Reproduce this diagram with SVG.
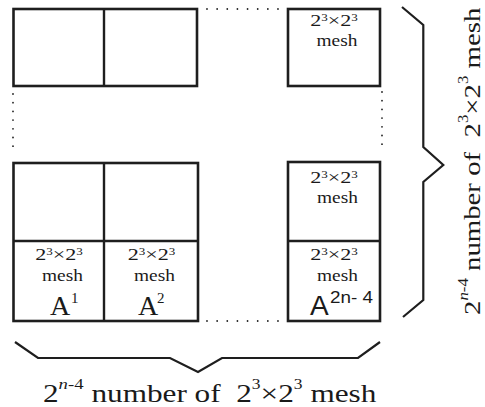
<svg xmlns="http://www.w3.org/2000/svg" width="485" height="407" viewBox="0 0 485 407">
<style>
.box{fill:#fff;stroke:#1e1e1e;stroke-width:2.6}
.div{stroke:#1e1e1e;stroke-width:2.4;fill:none}
.dots{stroke:#222;stroke-width:1.8;stroke-linecap:round;stroke-dasharray:0 10.14;fill:none}
.vdots{stroke:#222;stroke-width:1.8;stroke-linecap:round;stroke-dasharray:0 8.7;fill:none}
.brace{stroke:#1e1e1e;stroke-width:2.2;fill:none;stroke-linejoin:miter}
.t{font-family:'Liberation Serif','Times New Roman','DejaVu Serif',serif;fill:#1a1a1a}
.lbl{font-size:17px;text-anchor:middle}
.sup{font-size:10px}
.A{font-size:28px}
.As{font-family:'Liberation Sans',Arial,sans-serif;fill:#1a1a1a}
.cap{font-size:25px}
</style>
<g id="top-row">
  <rect class="box" x="13.5" y="9" width="183.5" height="77"/>
  <line class="div" x1="104" y1="9" x2="104" y2="86"/>
</g>
<g id="top-right">
  <rect class="box" x="288" y="9" width="92" height="77"/>
  <text class="t lbl" transform="translate(334,26) scale(1.3,1)">2<tspan class="sup" dy="-5">3</tspan><tspan dy="5">×2</tspan><tspan class="sup" dy="-5">3</tspan></text>
  <text class="t lbl" transform="translate(337,46) scale(1.14,1)">mesh</text>
</g>
<g id="bottom-left">
  <rect class="box" x="13.5" y="163" width="184.5" height="158"/>
  <line class="div" x1="104" y1="163" x2="104" y2="321"/>
  <line class="div" x1="13.5" y1="241" x2="198" y2="241"/>
  <text class="t lbl" transform="translate(59,260) scale(1.3,1)">2<tspan class="sup" dy="-5">3</tspan><tspan dy="5">×2</tspan><tspan class="sup" dy="-5">3</tspan></text>
  <text class="t lbl" transform="translate(62.5,281) scale(1.14,1)">mesh</text>
  <text class="t A" x="50" y="315">A</text>
  <text class="t" x="71" y="303" font-size="15">1</text>
  <text class="t lbl" transform="translate(151.5,260) scale(1.3,1)">2<tspan class="sup" dy="-5">3</tspan><tspan dy="5">×2</tspan><tspan class="sup" dy="-5">3</tspan></text>
  <text class="t lbl" transform="translate(154.5,281) scale(1.14,1)">mesh</text>
  <text class="t A" x="138" y="315">A</text>
  <text class="t" x="157" y="303" font-size="15">2</text>
</g>
<g id="bottom-right">
  <rect class="box" x="288" y="162" width="92" height="159"/>
  <line class="div" x1="288" y1="241" x2="380" y2="241"/>
  <text class="t lbl" transform="translate(334,183) scale(1.3,1)">2<tspan class="sup" dy="-5">3</tspan><tspan dy="5">×2</tspan><tspan class="sup" dy="-5">3</tspan></text>
  <text class="t lbl" transform="translate(337.5,203) scale(1.14,1)">mesh</text>
  <text class="t lbl" transform="translate(334,260) scale(1.3,1)">2<tspan class="sup" dy="-5">3</tspan><tspan dy="5">×2</tspan><tspan class="sup" dy="-5">3</tspan></text>
  <text class="t lbl" transform="translate(337.5,281) scale(1.14,1)">mesh</text>
  <text class="As" x="310" y="315" font-size="28">A</text>
  <text class="As" x="330" y="303" font-size="16" textLength="43" lengthAdjust="spacingAndGlyphs" xml:space="preserve">2n- 4</text>
</g>
<g id="connectors">
  <line class="dots" x1="207" y1="9" x2="278" y2="9"/>
  <line class="dots" x1="207" y1="321" x2="278" y2="321"/>
  <line class="vdots" x1="13" y1="94" x2="13" y2="154.9"/>
  <line class="vdots" x1="382" y1="92" x2="382" y2="152.9"/>
  <polyline class="brace" points="402,7 423.3,25 423.3,147 443.3,165 423.3,182 423.3,300 403,317"/>
  <polyline class="brace" points="15,342 38,358 170,358 198,372 222,358 358,358 380,342"/>
</g>
<g id="captions">
  <text class="t cap" xml:space="preserve" transform="translate(43,402) scale(1.25,1)">2<tspan font-size="15" dy="-13"><tspan font-style="italic">n</tspan>-4</tspan><tspan dy="13"> number of  2</tspan><tspan font-size="14" dy="-13">3</tspan><tspan dy="13">×2</tspan><tspan font-size="14" dy="-13">3</tspan><tspan dy="13"> mesh</tspan></text>
  <text class="t" font-size="24" xml:space="preserve" transform="translate(480,315) rotate(-90) scale(1.2,1)">2<tspan font-size="14" dy="-12"><tspan font-style="italic">n</tspan>-4</tspan><tspan dy="12"> number of  2</tspan><tspan font-size="14" dy="-12">3</tspan><tspan dy="12">×2</tspan><tspan font-size="14" dy="-12">3</tspan><tspan dy="12"> mesh</tspan></text>
</g>
</svg>
